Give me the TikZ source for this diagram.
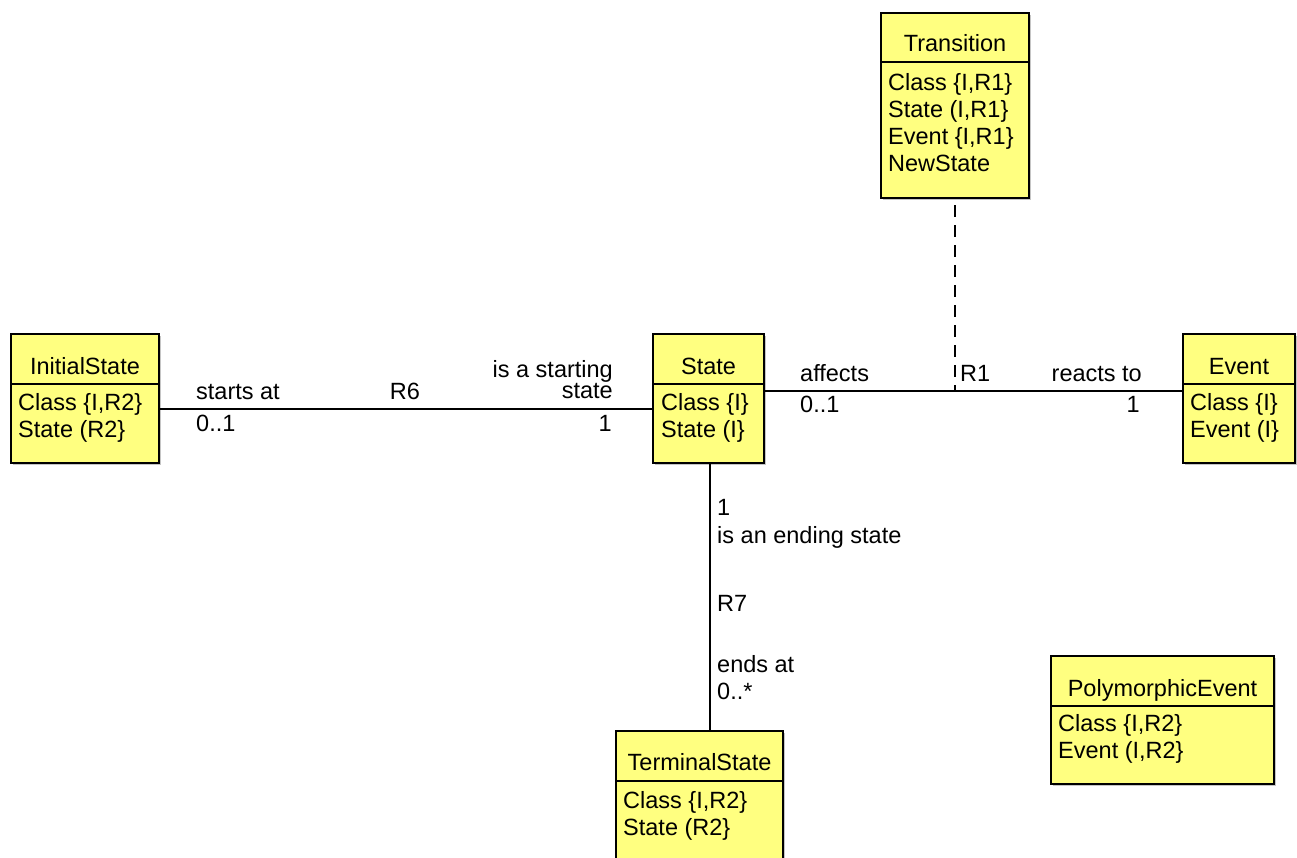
\documentclass[tikz,border=0pt]{standalone}
\usepackage{fontspec}
\setmainfont{Liberation Sans}
\usetikzlibrary{positioning,calc,shadows}
\definecolor{classfill}{RGB}{255,255,128}

\begin{document}
\begin{tikzpicture}[x=1pt,y=-1pt,
  every node/.style={font=\fontsize{23.5}{27}\selectfont,inner sep=0pt},
  classbox/.style={draw,line width=2pt,fill=classfill,anchor=north west,
    drop shadow={shadow xshift=1.5pt,shadow yshift=-1.5pt,fill=black!45}},
  classname/.style={anchor=base},
  attrs/.style={anchor=base west,align=left},
  headline/.style={line width=2pt},
  assoc/.style={line width=2pt},
  assocdash/.style={line width=2pt,dash pattern=on 12pt off 8pt},
  rolename/.style={anchor=base west}]
  \useasboundingbox (0,0) rectangle (1297,857);
  \clip (0,0) rectangle (1297,857);

  % Classes (attribute nodes sit on the baseline of their last line)
  \node[classbox,minimum width=148pt,minimum height=185pt] (trans) at (880,12) {};
  \draw[headline] ([yshift=-50pt]trans.north west) -- ([yshift=-50pt]trans.north east);
  \node[classname] (transname) at ([yshift=-39pt]trans.north) {Transition};
  \node[attrs] (transattr) at ([xshift=8pt,yshift=-159pt]trans.north west) {Class \{I,R1\}\\State (I,R1\}\\Event \{I,R1\}\\NewState};

  \node[classbox,minimum width=148pt,minimum height=129pt] (init) at (10,333) {};
  \draw[headline] ([yshift=-51pt]init.north west) -- ([yshift=-51pt]init.north east);
  \node[classname] (initname) at ([yshift=-41pt]init.north) {InitialState};
  \node[attrs] (initattr) at ([xshift=8pt,yshift=-104pt]init.north west) {Class \{I,R2\}\\State (R2\}};

  \node[classbox,minimum width=111pt,minimum height=129pt] (state) at (652,333) {};
  \draw[headline] ([yshift=-51pt]state.north west) -- ([yshift=-51pt]state.north east);
  \node[classname] (statename) at ([yshift=-41pt]state.north) {State};
  \node[attrs] (stateattr) at ([xshift=9pt,yshift=-104pt]state.north west) {Class \{I\}\\State (I\}};

  \node[classbox,minimum width=112pt,minimum height=129pt] (event) at (1182,333) {};
  \draw[headline] ([yshift=-51pt]event.north west) -- ([yshift=-51pt]event.north east);
  \node[classname] (eventname) at ([yshift=-41pt]event.north) {Event};
  \node[attrs] (eventattr) at ([xshift=8pt,yshift=-104pt]event.north west) {Class \{I\}\\Event (I\}};

  \node[classbox,minimum width=167pt,minimum height=129pt] (term) at (615,730) {};
  \draw[headline] ([yshift=-51pt]term.north west) -- ([yshift=-51pt]term.north east);
  \node[classname] (termname) at ([yshift=-40pt]term.north) {TerminalState};
  \node[attrs] (termattr) at ([xshift=8pt,yshift=-105pt]term.north west) {Class \{I,R2\}\\State (R2\}};

  \node[classbox,minimum width=223pt,minimum height=128pt] (poly) at (1050,655) {};
  \draw[headline] ([yshift=-51pt]poly.north west) -- ([yshift=-51pt]poly.north east);
  \node[classname] (polyname) at ([yshift=-41pt]poly.north) {PolymorphicEvent};
  \node[attrs] (polyattr) at ([xshift=8pt,yshift=-103pt]poly.north west) {Class \{I,R2\}\\Event (I,R2\}};

  % R6
  \draw[assoc] ([yshift=-10.5pt]init.east) -- ([yshift=-10.5pt]state.west);
  \node[rolename] (r6from) at (196,399) {starts at};
  \node[rolename] (r6fromm) at (196,431) {0..1};
  \node[anchor=base] (r6name) at (405,399) {R6};
  \node[anchor=south east,align=right,font=\fontsize{23.5}{19}\selectfont] (r6to) at (613,399) {is a starting\\state};
  \node[anchor=base east] (r6tom) at (612,431) {1};

  % R1
  \draw[assoc] ([yshift=7.5pt]state.east) coordinate (r1l) -- ([yshift=7.5pt]event.west);
  \draw[assocdash] ([yshift=-6pt]trans.south) -- (trans.south |- r1l);
  \node[rolename] (r1from) at (800,381) {affects};
  \node[rolename] (r1fromm) at (800,412) {0..1};
  \node[rolename] (r1name) at (960,381) {R1};
  \node[anchor=base east] (r1to) at (1142,381) {reacts to};
  \node[anchor=base east] (r1tom) at (1140,412) {1};

  % R7
  \draw[assoc] ([xshift=1.5pt]state.south) -- ([xshift=1.5pt]state.south |- term.north);
  \node[rolename] (r7tom) at (717,515) {1};
  \node[rolename] (r7to) at (717,543) {is an ending state};
  \node[rolename] (r7name) at (717,611) {R7};
  \node[rolename] (r7from) at (717,672) {ends at};
  \node[rolename] (r7fromm) at (717,699) {0..*};
\end{tikzpicture}
\end{document}
